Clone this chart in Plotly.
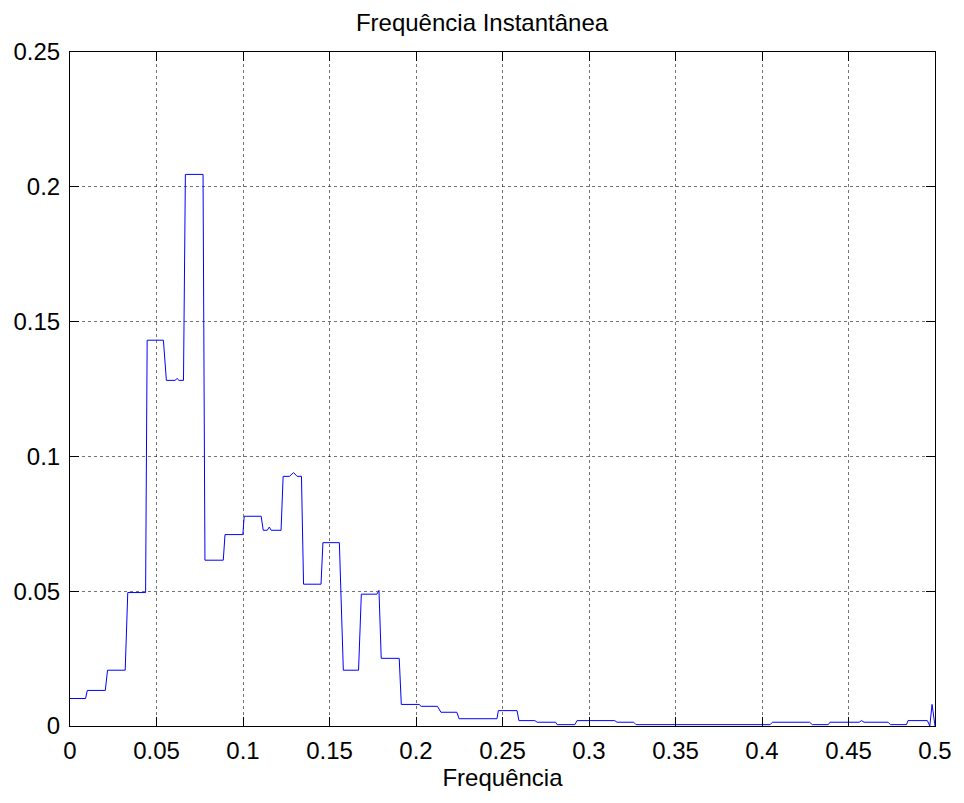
import plotly.graph_objects as go

# Step-like instantaneous frequency curve (vertex list)
freq = [0.0, 0.0090, 0.0100, 0.0204, 0.0217, 0.0319, 0.0334, 0.0437, 0.0446, 0.0540,
        0.0557, 0.0607, 0.0619, 0.0630, 0.0656, 0.0667, 0.0769, 0.0780, 0.0886, 0.0896,
        0.0999, 0.1007, 0.1105, 0.1117, 0.1140, 0.1152, 0.1163, 0.1220, 0.1232, 0.1269,
        0.1292, 0.1313, 0.1338, 0.1350, 0.1451, 0.1462, 0.1557, 0.1580, 0.1668, 0.1684,
        0.1774, 0.1786, 0.1799, 0.1903, 0.1915, 0.2018, 0.2030, 0.2124, 0.2144, 0.2236,
        0.2249, 0.2468, 0.2476, 0.2584, 0.2595, 0.2687, 0.2701, 0.2807, 0.2816, 0.2918,
        0.2931, 0.3149, 0.3162, 0.3258, 0.3272, 0.4047, 0.4060, 0.4275, 0.4291, 0.4383,
        0.4393, 0.4562, 0.4575, 0.4590, 0.4729, 0.4743, 0.4835, 0.4844, 0.4956, 0.4970,
        0.4983, 0.5000]
amplitude = [0.0102, 0.0102, 0.0132, 0.0132, 0.0207, 0.0207, 0.0495, 0.0495, 0.1431, 0.1431,
             0.1282, 0.1282, 0.1289, 0.1282, 0.1282, 0.2046, 0.2046, 0.0615, 0.0615, 0.0710,
             0.0710, 0.0778, 0.0778, 0.0726, 0.0726, 0.0738, 0.0726, 0.0726, 0.0926, 0.0926,
             0.0940, 0.0926, 0.0926, 0.0526, 0.0526, 0.0680, 0.0680, 0.0207, 0.0207, 0.0489,
             0.0489, 0.0503, 0.0251, 0.0251, 0.0080, 0.0080, 0.0073, 0.0073, 0.0051, 0.0051,
             0.0027, 0.0027, 0.0057, 0.0057, 0.0020, 0.0020, 0.0014, 0.0014, 0.0005, 0.0005,
             0.0020, 0.0020, 0.0014, 0.0014, 0.0005, 0.0005, 0.0014, 0.0014, 0.0005, 0.0005,
             0.0014, 0.0014, 0.0020, 0.0014, 0.0014, 0.0005, 0.0005, 0.0020, 0.0020, 0.0000,
             0.0080, 0.0000]

x_ticks = [0, 0.05, 0.1, 0.15, 0.2, 0.25, 0.3, 0.35, 0.4, 0.45, 0.5]
x_tick_text = ["0", "0.05", "0.1", "0.15", "0.2", "0.25", "0.3", "0.35", "0.4", "0.45", "0.5"]
y_ticks = [0, 0.05, 0.1, 0.15, 0.2, 0.25]
y_tick_text = ["0", "0.05", "0.1", "0.15", "0.2", "0.25"]

FONT = "Liberation Sans, Arial, Helvetica, sans-serif"

fig = go.Figure()
fig.add_trace(go.Scatter(
    x=freq, y=amplitude, mode="lines",
    line=dict(color="#0000FF", width=1),
    showlegend=False, hoverinfo="skip",
))

axis_common = dict(
    showline=True, linecolor="black", linewidth=1, mirror="allticks",
    ticks="inside", ticklen=9, tickwidth=1, tickcolor="black",
    showgrid=True, gridcolor="rgba(0,0,0,0.55)", griddash="dot", gridwidth=1,
    zeroline=False,
    tickfont=dict(family=FONT, size=24, color="black"),
)

fig.update_xaxes(
    range=[0, 0.5], tickvals=x_ticks, ticktext=x_tick_text,
    title=dict(text="Frequência", font=dict(family=FONT, size=24, color="black"), standoff=4),
    ticklabelstandoff=3,
    **axis_common,
)
fig.update_yaxes(
    range=[0, 0.25], tickvals=y_ticks, ticktext=y_tick_text,
    ticklabelstandoff=4,
    **axis_common,
)

fig.update_layout(
    width=964, height=803,
    margin=dict(l=70, r=26, t=52, b=77),
    paper_bgcolor="white", plot_bgcolor="white",
    title=dict(text="Frequência Instantânea", x=0.5, xanchor="center",
               y=1 - 23 / 803, yanchor="middle",
               font=dict(family=FONT, size=24, color="black")),
)

fig.write_html("out.html")
